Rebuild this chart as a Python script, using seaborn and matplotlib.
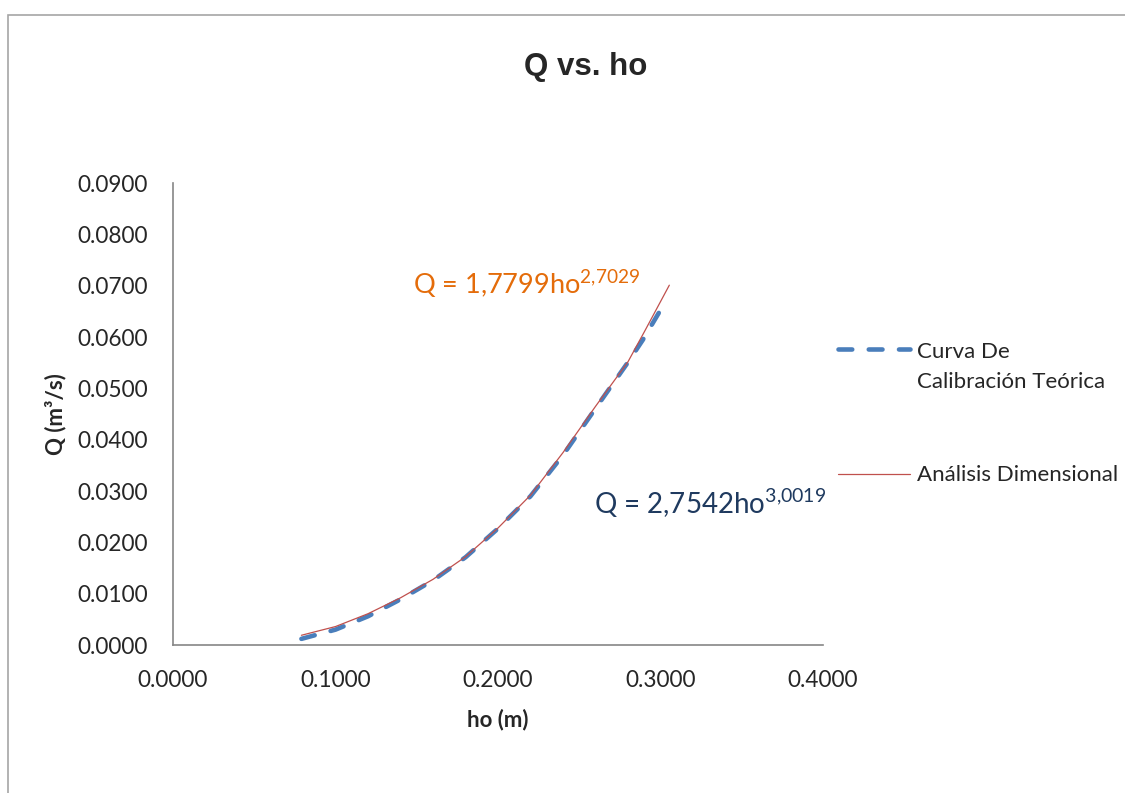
import pandas as pd
import seaborn as sns
import matplotlib.pyplot as plt
from matplotlib.patches import Rectangle
from matplotlib.legend_handler import HandlerLine2D

# data
ho_teorica = [0.079, 0.10, 0.12, 0.14, 0.16, 0.18, 0.20, 0.22, 0.24, 0.26, 0.28, 0.289, 0.2993]
q_teorica = [0.0012, 0.0030, 0.0056, 0.0089, 0.0126, 0.0171, 0.0227, 0.0290, 0.0370, 0.0461, 0.0551, 0.0594, 0.0649]

ho_dim = [0.079, 0.10, 0.12, 0.14, 0.16, 0.18, 0.20, 0.22, 0.24, 0.26, 0.28, 0.29, 0.3054]
q_dim = [0.0019, 0.0036, 0.0061, 0.0092, 0.0128, 0.0172, 0.0228, 0.0292, 0.0375, 0.0465, 0.0552, 0.0610, 0.0701]

label_teorica = "Curva De\nCalibración Teórica"
label_dim = "Análisis Dimensional"


class FirstLineHandler(HandlerLine2D):
    # put the legend line next to the first text line, like Excel does
    def __init__(self, shift=0, **kw):
        super().__init__(**kw)
        self.shift = shift

    def create_artists(self, *args, **kw):
        arts = super().create_artists(*args, **kw)
        for a in arts:
            a.set_ydata([y + self.shift for y in a.get_ydata()])
        return arts


sns.set_style("white")
plt.rcParams['font.family'] = ['Lato', 'DejaVu Sans']
plt.rcParams['mathtext.fontset'] = 'custom'
plt.rcParams['mathtext.rm'] = 'Lato'

fig = plt.figure(figsize=(11.25, 7.93), dpi=100)
ax = fig.add_axes([0.1538, 0.1866, 0.5778, 0.5826])

df_t = pd.DataFrame({'ho': ho_teorica, 'Q': q_teorica})
df_d = pd.DataFrame({'ho': ho_dim, 'Q': q_dim})

sns.lineplot(data=df_t, x='ho', y='Q', ax=ax, color='#4A7EBB', lw=3.3,
             label=label_teorica, sort=False)
blue = ax.lines[-1]
blue.set_dashes((3, 3.6))
blue.set_dash_capstyle('round')
sns.lineplot(data=df_d, x='ho', y='Q', ax=ax, color='#C0504D', lw=0.9,
             label=label_dim, sort=False)
red = ax.lines[-1]

ax.set_xlim(0, 0.4)
ax.set_ylim(0, 0.09)
ax.set_xticks([0, 0.1, 0.2, 0.3, 0.4])
ax.set_yticks([i * 0.01 for i in range(10)])
ax.xaxis.set_major_formatter(lambda v, p: f"{v:.4f}")
ax.yaxis.set_major_formatter(lambda v, p: f"{v:.4f}")
ax.tick_params(length=0, labelsize=16.3)
ax.tick_params(axis='x', pad=18)
ax.tick_params(axis='y', pad=18)

for s in ['top', 'right']:
    ax.spines[s].set_visible(False)
for s in ['left', 'bottom']:
    ax.spines[s].set_color('#868686')
    ax.spines[s].set_linewidth(1.2)

ax.set_xlabel("ho (m)", fontsize=16, fontweight='bold', labelpad=13)
ax.set_ylabel("Q (m³/s)", fontsize=16, fontweight='bold', labelpad=8)

fig.text(0.521, 0.915, "Q vs. ho", ha='center', va='center', fontsize=22.5,
         fontweight='bold', family=['Liberation Sans'])

ax.text(0.1477, 0.0704, r"Q = 1,7799ho$^{\mathregular{2{,}7029}}$", color='#E46C0A',
        fontsize=19.5, va='center', ha='left')
ax.text(0.2590, 0.0277, r"Q = 2,7542ho$^{\mathregular{3{,}0019}}$", color='#1F3A5F',
        fontsize=20, va='center', ha='left')

leg = ax.legend(handles=[blue, red], labels=[label_teorica, label_dim],
                loc='upper left', bbox_to_anchor=(0.992, 0.699), frameon=False,
                fontsize=16, handlelength=3.25, handletextpad=0.3,
                labelspacing=3.3,
                handler_map={blue: FirstLineHandler(shift=13)})
for t in leg.get_texts():
    t.set_linespacing(1.62)

# outer chart border
fig.add_artist(Rectangle((8 / 1125, -0.1), 1.2, 1.1 - 15 / 793, fill=False,
                         edgecolor='#A6A6A6', lw=1.2, transform=fig.transFigure))

fig.savefig("out.png", dpi=100)
